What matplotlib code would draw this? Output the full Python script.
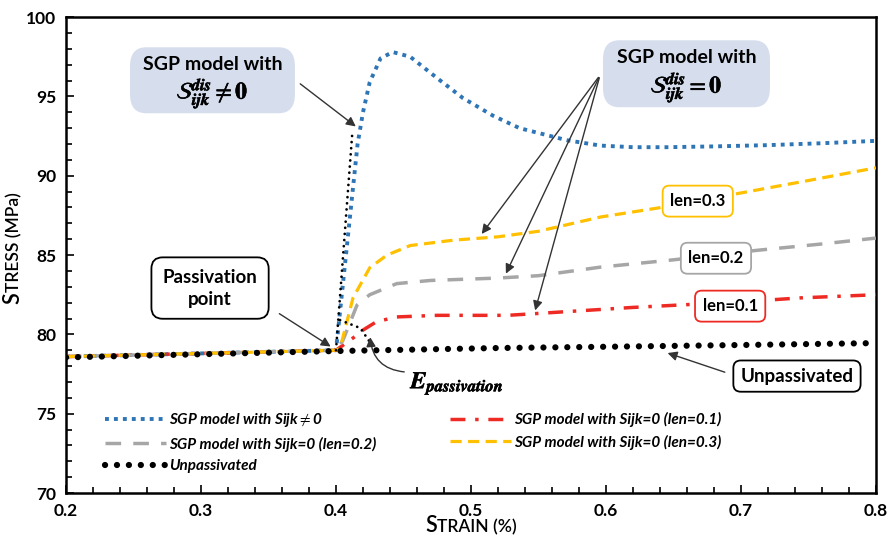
import matplotlib
matplotlib.use("Agg")
import matplotlib.pyplot as plt
import matplotlib.patheffects as pe
from matplotlib.patches import FancyBboxPatch
from matplotlib.ticker import MultipleLocator
from matplotlib.transforms import offset_copy

plt.rcParams['font.family'] = ['Lato', 'DejaVu Sans']
plt.rcParams['mathtext.fontset'] = 'stix'

# values
strain_unpass = [0.2, 0.3, 0.4, 0.52, 0.6, 0.7, 0.8]
stress_unpass = [78.55, 78.75, 78.95, 79.14, 79.22, 79.33, 79.45]

strain_s_dis = [0.2, 0.3, 0.4, 0.408, 0.416, 0.420, 0.425, 0.433, 0.442, 0.455,
                0.475, 0.494, 0.516, 0.536, 0.571, 0.596, 0.62, 0.645, 0.68,
                0.72, 0.76, 0.8]
stress_s_dis = [78.6, 78.8, 79.0, 85.5, 92.0, 94.0, 95.9, 97.4, 97.8, 97.5,
                96.15, 94.9, 93.8, 93.0, 92.24, 91.9, 91.8, 91.8, 91.85,
                91.93, 92.05, 92.2]

strain_len01 = [0.2, 0.3, 0.4, 0.4126, 0.42, 0.43, 0.445, 0.475, 0.527, 0.546,
                0.62, 0.7, 0.744, 0.8]
stress_len01 = [78.6, 78.8, 79.0, 79.77, 80.27, 80.8, 81.1, 81.2, 81.2, 81.3,
                81.7, 82.05, 82.3, 82.5]

strain_len02 = [0.2, 0.3, 0.4, 0.405, 0.4156, 0.425, 0.445, 0.47, 0.52, 0.55,
                0.596, 0.65, 0.712, 0.76, 0.8]
stress_len02 = [78.6, 78.8, 79.0, 79.6, 81.85, 82.5, 83.2, 83.4, 83.55, 83.7,
                84.24, 84.7, 85.3, 85.7, 86.07]

strain_len03 = [0.2, 0.3, 0.4, 0.403, 0.4126, 0.425, 0.4378, 0.455, 0.487, 0.52,
                0.55, 0.596, 0.638, 0.699, 0.75, 0.8]
stress_len03 = [78.6, 78.8, 79.0, 79.1, 82.3, 84.2, 85.0, 85.6, 85.94, 86.15,
                86.5, 87.4, 87.96, 88.9, 89.7, 90.5]

# small dotted guides around the passivation point
guide_up_x = [0.400, 0.412]
guide_up_y = [79.0, 92.6]
guide_e_x = [0.403, 0.418, 0.426]
guide_e_y = [80.9, 80.4, 79.4]

labels = ['SGP model with Sijk' + r'$\neq$' + '0', 'SGP model with Sijk=0 (len=0.1)',
          'SGP model with Sijk=0 (len=0.2)', 'SGP model with Sijk=0 (len=0.3)',
          'Unpassivated']

BLUE = '#2E75B6'
RED = '#EE2A24'
GRAY = '#A6A6A6'
YELLOW = '#FFC000'
CALLOUT = '#D6DEEE'

fig = plt.figure(figsize=(8.92, 5.47), dpi=100)
ax = fig.add_axes([0.074, 0.0987, 0.908, 0.870])

l_blue, = ax.plot(strain_s_dis, stress_s_dis, color=BLUE, lw=2.8,
                  ls=(0, (1, 1.3)), dash_capstyle='butt', label=labels[0], zorder=2)
l_red, = ax.plot(strain_len01, stress_len01, color=RED, lw=2.5,
                 ls=(0, (4.3, 2.8, 1, 2.8)), label=labels[1], zorder=3)
l_gray, = ax.plot(strain_len02, stress_len02, color=GRAY, lw=2.5,
                  ls=(0, (4.5, 3.5)), label=labels[2], zorder=3)
l_yel, = ax.plot(strain_len03, stress_len03, color=YELLOW, lw=2.3,
                 ls=(0, (3.5, 2)), label=labels[3], zorder=4)
l_unp, = ax.plot(strain_unpass, stress_unpass, color='black', lw=4.5,
                 ls=(0, (0.01, 1.9)), dash_capstyle='round', label=labels[4], zorder=5)

for gx, gy in [(guide_up_x, guide_up_y), (guide_e_x, guide_e_y)]:
    ax.plot(gx, gy, color='black', lw=2, ls=(0, (0.01, 2.2)),
            dash_capstyle='round', zorder=6)

ax.set_xlim(0.2, 0.8)
ax.set_ylim(70, 100)
ax.xaxis.set_major_locator(MultipleLocator(0.1))
ax.xaxis.set_minor_locator(MultipleLocator(0.02))
ax.yaxis.set_major_locator(MultipleLocator(5))
ax.yaxis.set_minor_locator(MultipleLocator(1))
ax.tick_params(which='both', direction='in', width=1.2)
ax.tick_params(which='major', length=6, labelsize=12.5, pad=7)
ax.tick_params(which='minor', length=4)
for lab in ax.get_xticklabels() + ax.get_yticklabels():
    lab.set_fontweight('bold')
for sp in ax.spines.values():
    sp.set_linewidth(1.8)

# small-caps style axis labels
renderer = fig.canvas.get_renderer()
big, small = 15.5, 12.5
xl_s = ax.text(0.5, -0.082, 'S', fontsize=big, ha='left', va='baseline',
               fontweight='semibold', transform=ax.transAxes)
xl_r = ax.text(0.5, -0.082, 'TRAIN (%)', fontsize=small, ha='left', va='baseline',
               fontweight='semibold', transform=ax.transAxes)
ws = xl_s.get_window_extent(renderer).width * 72 / fig.dpi
wr = xl_r.get_window_extent(renderer).width * 72 / fig.dpi
xl_s.set_transform(offset_copy(ax.transAxes, fig, x=-(ws + wr) / 2, y=0, units='points'))
xl_r.set_transform(offset_copy(ax.transAxes, fig, x=-(ws + wr) / 2 + ws, y=0, units='points'))

yl_s = ax.text(-0.058, 0.515, 'S', fontsize=big, rotation=90, rotation_mode='anchor',
               ha='left', va='baseline', fontweight='semibold', transform=ax.transAxes)
yl_r = ax.text(-0.058, 0.515, 'TRESS (MPa)', fontsize=small, rotation=90,
               rotation_mode='anchor', ha='left', va='baseline', fontweight='semibold',
               transform=ax.transAxes)
hs = yl_s.get_window_extent(renderer).height * 72 / fig.dpi
hr = yl_r.get_window_extent(renderer).height * 72 / fig.dpi
yl_s.set_transform(offset_copy(ax.transAxes, fig, x=0, y=-(hs + hr) / 2, units='points'))
yl_r.set_transform(offset_copy(ax.transAxes, fig, x=0, y=-(hs + hr) / 2 + hs, units='points'))

leg = ax.legend([l_blue, l_gray, l_unp, l_red, l_yel],
                [labels[0], labels[2], labels[4], labels[1], labels[3]],
                ncol=2, loc='upper left', bbox_to_anchor=(0.031, 0.201),
                frameon=False, handlelength=4.0, handletextpad=0.2,
                columnspacing=4.8, labelspacing=0.5,
                prop={'weight': 'bold', 'style': 'italic', 'size': 11})

arrow = dict(arrowstyle='-|>', color='#333333', lw=1.0, mutation_scale=14)
math_fx = [pe.withStroke(linewidth=0.4, foreground='black')]

# callout boxes for the SGP models
for (x0, y0, x1, y1), cx, rel in [((0.2474, 93.94, 0.3696, 98.1), 0.3085, r'\neq'),
                                  ((0.5978, 94.32, 0.7215, 98.54), 0.6597, '=')]:
    ax.add_patch(FancyBboxPatch((x0, y0), x1 - x0, y1 - y0,
                                boxstyle='round,pad=0,rounding_size=0.012',
                                mutation_aspect=100, fc=CALLOUT, ec='none', zorder=7))
    ax.text(cx, y1 - 1.1, 'SGP model with', ha='center', va='center',
            fontsize=14, fontweight='bold', zorder=8)
    ax.text(cx, y0 + 1.25, r'$\mathcal{S}_{\mathbfit{ijk}}^{\mathbfit{dis}}' + rel + r'\mathbf{0}$',
            ha='center', va='center', fontsize=17, zorder=8, path_effects=math_fx)

ax.annotate('', xy=(0.4163, 93.0), xytext=(0.3719, 95.9), arrowprops=arrow, zorder=7)
for tip in [(0.5067, 86.19), (0.525, 83.67), (0.547, 81.34)]:
    ax.annotate('', xy=tip, xytext=(0.5956, 96.34), arrowprops=arrow, zorder=7)

# length scale tags
for txt, (tx, ty), col in [('len=0.3', (0.668, 88.4), YELLOW),
                           ('len=0.2', (0.6815, 84.8), GRAY),
                           ('len=0.1', (0.692, 81.78), RED)]:
    ax.text(tx, ty, txt, ha='center', va='center', fontsize=12, fontweight='bold',
            bbox=dict(boxstyle='round,pad=0.45,rounding_size=0.4', fc='white',
                      ec=col, lw=1.3), zorder=7)

# passivation point
ax.text(0.3067, 82.92, 'Passivation\npoint', ha='center', va='center', fontsize=13.5,
        fontweight='bold', linespacing=1.35,
        bbox=dict(boxstyle='round,pad=0.6,rounding_size=0.6', fc='white',
                  ec='black', lw=1.3), zorder=7)
ax.annotate('', xy=(0.3978, 79.14), xytext=(0.3563, 81.4), arrowprops=arrow, zorder=7)

ax.text(0.490, 76.9, r'$\mathbfit{E}_{\mathbfit{passivation}}$', ha='center',
        va='center', fontsize=17, zorder=7, path_effects=math_fx)
ax.annotate('', xy=(0.4252, 80.0), xytext=(0.4526, 77.62), zorder=7,
            arrowprops=dict(arrowstyle='-|>', color='#333333', lw=1.0,
                            mutation_scale=14, connectionstyle='arc3,rad=-0.45'))

# unpassivated tag
ax.text(0.7415, 77.37, 'Unpassivated', ha='center', va='center', fontsize=13.5,
        fontweight='bold',
        bbox=dict(boxstyle='round,pad=0.38,rounding_size=0.4', fc='white',
                  ec='black', lw=1.3), zorder=7)
ax.annotate('', xy=(0.6437, 78.88), xytext=(0.690, 77.56), arrowprops=arrow, zorder=7)

fig.savefig('out.png', dpi=100)
